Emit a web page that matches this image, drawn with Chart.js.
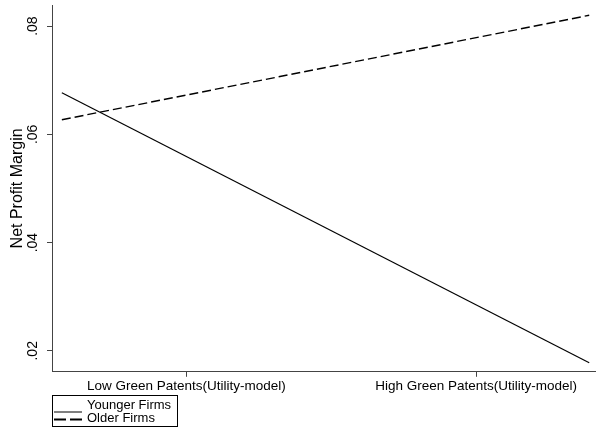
<!DOCTYPE html>
<html>
<head>
<meta charset="utf-8">
<script src="https://cdn.jsdelivr.net/npm/chart.js@4"></script>
<style>
  html, body { margin: 0; padding: 0; background: #fff; }
  #wrap { width: 600px; height: 428px; }
</style>
</head>
<body>
<div id="wrap"><canvas id="marginChart" width="600" height="428"></canvas></div>
<script>
// values
const xPositions = [-0.43, 1.39];          // where the fitted lines start and end
const xTickValues = [0, 1];
const xTickLabels = ['Low Green Patents(Utility-model)', 'High Green Patents(Utility-model)'];
const youngerFirms = [0.0677, 0.0178];
const olderFirms = [0.0627, 0.0820];
const yTickValues = [0.02, 0.04, 0.06, 0.08];
const seriesNames = ['Younger Firms', 'Older Firms'];

const axisColor = '#444';
const fontFamily = 'Liberation Sans, Arial, Helvetica, sans-serif';

// Stata-style boxed legend under the plot
const boxLegend = {
    id: 'boxLegend',
    afterDraw(chart) {
        const ctx = chart.ctx;
        const left = chart.chartArea.left;
        ctx.save();
        ctx.strokeStyle = '#000';
        ctx.lineWidth = 1;
        ctx.strokeRect(left + 0.5, 395.5, 125, 31);
        ctx.beginPath();
        ctx.moveTo(left + 2, 412);
        ctx.lineTo(left + 30, 412);
        ctx.lineWidth = 1;
        ctx.stroke();
        ctx.beginPath();
        ctx.setLineDash([12, 4]);
        ctx.lineWidth = 1.8;
        ctx.moveTo(left + 2, 419.5);
        ctx.lineTo(left + 30, 419.5);
        ctx.stroke();
        ctx.setLineDash([]);
        ctx.fillStyle = '#000';
        ctx.font = '13px ' + fontFamily;
        ctx.textBaseline = 'middle';
        ctx.textAlign = 'left';
        ctx.fillText(seriesNames[0], left + 35, 405);
        ctx.fillText(seriesNames[1], left + 35, 418);
        ctx.restore();
    }
};

// no extra room for the rotated end labels
const noEndPadding = scale => {
    scale.paddingTop = 0;
    scale.paddingBottom = 0;
};

const ctx = document.getElementById('marginChart').getContext('2d');
new Chart(ctx, {
    type: 'line',
    data: {
        datasets: [{
            label: seriesNames[0],
            data: xPositions.map((x, i) => ({ x: x, y: youngerFirms[i] })),
            borderColor: '#000',
            borderWidth: 1.2,
            pointRadius: 0,
            fill: false
        }, {
            label: seriesNames[1],
            data: xPositions.map((x, i) => ({ x: x, y: olderFirms[i] })),
            borderColor: '#000',
            borderWidth: 1.4,
            borderDash: [9, 4],
            pointRadius: 0,
            fill: false
        }]
    },
    options: {
        responsive: false,
        animation: false,
        layout: { padding: { left: 8, right: 5, top: 5, bottom: 33 } },
        plugins: {
            legend: { display: false },
            tooltip: { enabled: false }
        },
        scales: {
            x: {
                type: 'linear',
                min: -0.464,
                max: 1.41,
                afterBuildTicks: axis => { axis.ticks = xTickValues.map(v => ({ value: v })); },
                ticks: {
                    color: '#000',
                    font: { family: fontFamily, size: 13.5 },
                    maxRotation: 0,
                    padding: 1,
                    callback: v => xTickLabels[xTickValues.indexOf(v)]
                },
                grid: { drawOnChartArea: false, tickLength: 5, color: axisColor },
                border: { color: axisColor, width: 1 }
            },
            y: {
                min: 0.01612,
                max: 0.0839,
                afterBuildTicks: axis => { axis.ticks = yTickValues.map(v => ({ value: v })); },
                afterFit: noEndPadding,
                ticks: {
                    color: '#000',
                    font: { family: fontFamily, size: 14 },
                    minRotation: 90,
                    maxRotation: 90,
                    crossAlign: 'center',
                    padding: 4,
                    callback: v => v.toFixed(2).replace(/^0/, '')
                },
                title: {
                    display: true,
                    text: 'Net Profit Margin',
                    color: '#000',
                    font: { family: fontFamily, size: 16 },
                    padding: { top: 0, bottom: -5 }
                },
                grid: { drawOnChartArea: false, tickLength: 5, color: axisColor },
                border: { color: axisColor, width: 1 }
            }
        }
    },
    plugins: [boxLegend]
});
</script>
</body>
</html>
